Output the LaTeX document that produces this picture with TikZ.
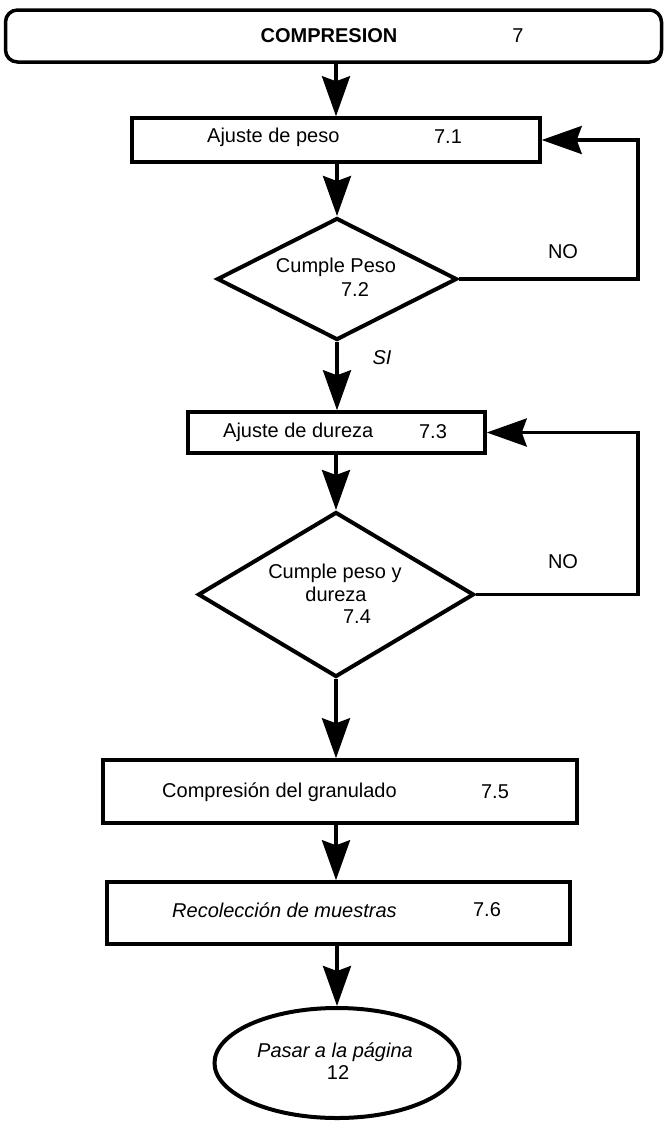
\documentclass[tikz,border=0pt]{standalone}
\usepackage{fontspec}
\setmainfont{Liberation Sans}
\usetikzlibrary{arrows.meta,shapes.geometric}
\begin{document}
\begin{tikzpicture}[x=1pt,y=-1pt,
  box/.style={draw,line width=3.5pt,rectangle,inner sep=0pt},
  dia/.style={draw,line width=4pt,diamond,inner sep=0pt},
  oval/.style={draw,line width=4pt,ellipse,inner sep=0pt},
  txt/.style={font=\fontsize{20}{23}\selectfont,inner sep=0pt},
  arr/.style={line width=3.5pt,line join=miter,-{Stealth[length=40pt,width=28pt,inset=5pt]}},
  ln/.style={line width=3.5pt}]
\useasboundingbox (0,0) rectangle (666,1122);
% shapes
\node[box,rounded corners=12pt,minimum width=656pt,minimum height=52pt] (top) at (333.5,36) {};
\node[box,minimum width=408pt,minimum height=44pt] (b1) at (336,140) {};
\node[dia,minimum width=240pt,minimum height=122pt] (d1) at (337,279) {};
\node[box,minimum width=297pt,minimum height=41pt] (b2) at (336.5,432.5) {};
\node[dia,minimum width=276pt,minimum height=165pt] (d2) at (336,594.5) {};
\node[box,minimum width=474pt,minimum height=63pt] (b3) at (340,791.5) {};
\node[box,minimum width=463pt,minimum height=62pt] (b4) at (338.5,913) {};
\node[oval,minimum width=245pt,minimum height=110pt] (e) at (337,1063) {};
% texts
\node[txt,font=\fontsize{20}{23}\selectfont\bfseries] (t0) at (329,36) {COMPRESION};
\node[txt] (t0n) at (518,36) {7};
\node[txt,anchor=west] (t1) at (207,137) {Ajuste de peso};
\node[txt] (t1n) at (448,137) {7.1};
\node[txt] (t2) at (336,267) {Cumple Peso};
\node[txt] (t2n) at (355,290) {7.2};
\node[txt] (no1) at (563,252) {NO};
\node[txt,font=\fontsize{20}{23}\selectfont\itshape] (si) at (382,358) {SI};
\node[txt,anchor=west] (t3) at (223,432) {Ajuste de dureza};
\node[txt] (t3n) at (433,432) {7.3};
\node[txt] (t4a) at (335,573) {Cumple peso y};
\node[txt] (t4b) at (336,594) {dureza};
\node[txt] (t4n) at (357,617) {7.4};
\node[txt] (no2) at (563,562) {NO};
\node[txt,anchor=west] (t5) at (162,792) {Compresión del granulado};
\node[txt] (t5n) at (495,792) {7.5};
\node[txt,anchor=west,font=\fontsize{20}{23}\selectfont\itshape] (t6) at (172,910) {Recolección de muestras};
\node[txt] (t6n) at (487,910) {7.6};
\node[txt,font=\fontsize{20}{23}\selectfont\itshape] (t7) at (335,1052) {Pasar a la página};
\node[txt] (t7n) at (338,1073) {12};
% connectors
\coordinate (r) at (638,0);
\draw[arr] (top.south -| b1.north) -- (b1.north);
\draw[arr] (b1.south -| d1.north) -- (d1.north);
\draw[arr] (d1.south) -- (d1.south |- b2.north);
\draw[arr] (b2.south -| d2.north) -- (d2.north);
\draw[arr] (d2.south) -- (d2.south |- b3.north);
\draw[arr] (b3.south -| d2.south) -- (d2.south |- b4.north);
\draw[arr] (b4.south -| e.north) -- (e.north);
\draw[arr] (d1.east) -- (d1.east -| r) -- (b1.east -| r) -- (b1.east);
\draw[arr] (d2.east) -- (d2.east -| r) -- (b2.east -| r) -- (b2.east);
\end{tikzpicture}
\end{document}
